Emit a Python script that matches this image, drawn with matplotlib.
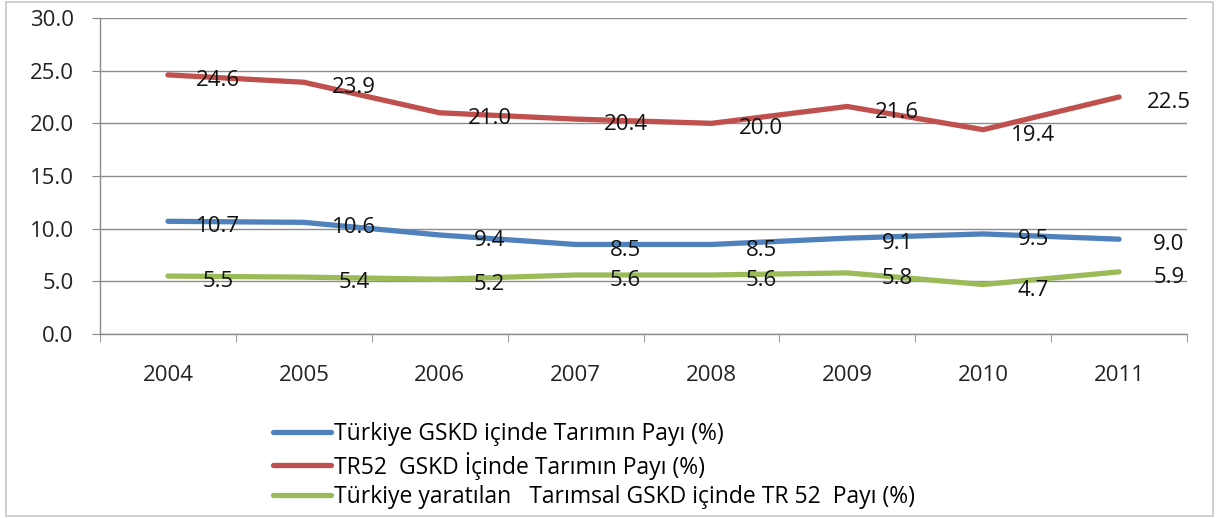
import matplotlib
matplotlib.use("Agg")
import matplotlib.pyplot as plt
from matplotlib.patches import Rectangle

years = ["2004", "2005", "2006", "2007", "2008", "2009", "2010", "2011"]
turkiye = [10.7, 10.6, 9.4, 8.5, 8.5, 9.1, 9.5, 9.0]
tr52 = [24.6, 23.9, 21.0, 20.4, 20.0, 21.6, 19.4, 22.5]
tr52_share = [5.5, 5.4, 5.2, 5.6, 5.6, 5.8, 4.7, 5.9]
series_names = [
    "Türkiye GSKD içinde Tarımın Payı (%)",
    "TR52  GSKD İçinde Tarımın Payı (%)",
    "Türkiye yaratılan   Tarımsal GSKD içinde TR 52  Payı (%)",
]
yticks = [0, 5, 10, 15, 20, 25, 30]

plt.rcParams['font.family'] = ['Open Sans', 'DejaVu Sans']

fig = plt.figure(figsize=(12.2, 5.18), dpi=100)
fig.patches.append(Rectangle((6/1220, 2/518), 1207/1220, 514/518, transform=fig.transFigure,
                             fill=False, edgecolor='#c8c8c8', linewidth=1.2))
ax = fig.add_axes([100/1220, 1-334/518, 1087/1220, 316/518])

colors = ['#4F81BD', '#C0504D', '#9BBB59']
x = list(range(len(years)))
for vals, c, name in zip([turkiye, tr52, tr52_share], colors, series_names):
    ax.plot(x, vals, color=c, linewidth=3.8, solid_capstyle='round', label=name, zorder=3)
    for xi, v in zip(x, vals):
        ax.annotate(f"{v:.1f}", (xi, v), xytext=(36, -4), textcoords='offset points',
                    ha='center', va='center', fontsize=16, color='#111111', zorder=4)

ax.set_xlim(-0.5, len(years) - 0.5)
ax.set_ylim(0, 30)
ax.set_yticks(yticks)
ax.set_yticklabels([f"{t:.1f}" for t in yticks], fontsize=16, color='#222222')
ax.set_xticks(x)
ax.set_xticklabels(years, fontsize=16, color='#222222')
ax.set_xticks([i - 0.5 for i in range(len(years) + 1)], minor=True)
ax.tick_params(axis='x', which='major', length=0, pad=22)
ax.tick_params(axis='x', which='minor', length=6, color='#888888', direction='out')
ax.tick_params(axis='y', length=6, color='#888888', pad=13)
ax.grid(axis='y', color='#8c8c8c', linewidth=1.0, zorder=0)
for s in ['top', 'right']:
    ax.spines[s].set_visible(False)
for s in ['left', 'bottom']:
    ax.spines[s].set_color('#8c8c8c')
    ax.spines[s].set_linewidth(1.0)

fig.legend(loc='upper left', bbox_to_anchor=(262/1220, 1-411/518), frameon=False,
           fontsize=16.5, handlelength=2.5, handletextpad=0.12, labelspacing=0.22,
           borderpad=0)

fig.savefig("out.png", dpi=100, facecolor='white')
